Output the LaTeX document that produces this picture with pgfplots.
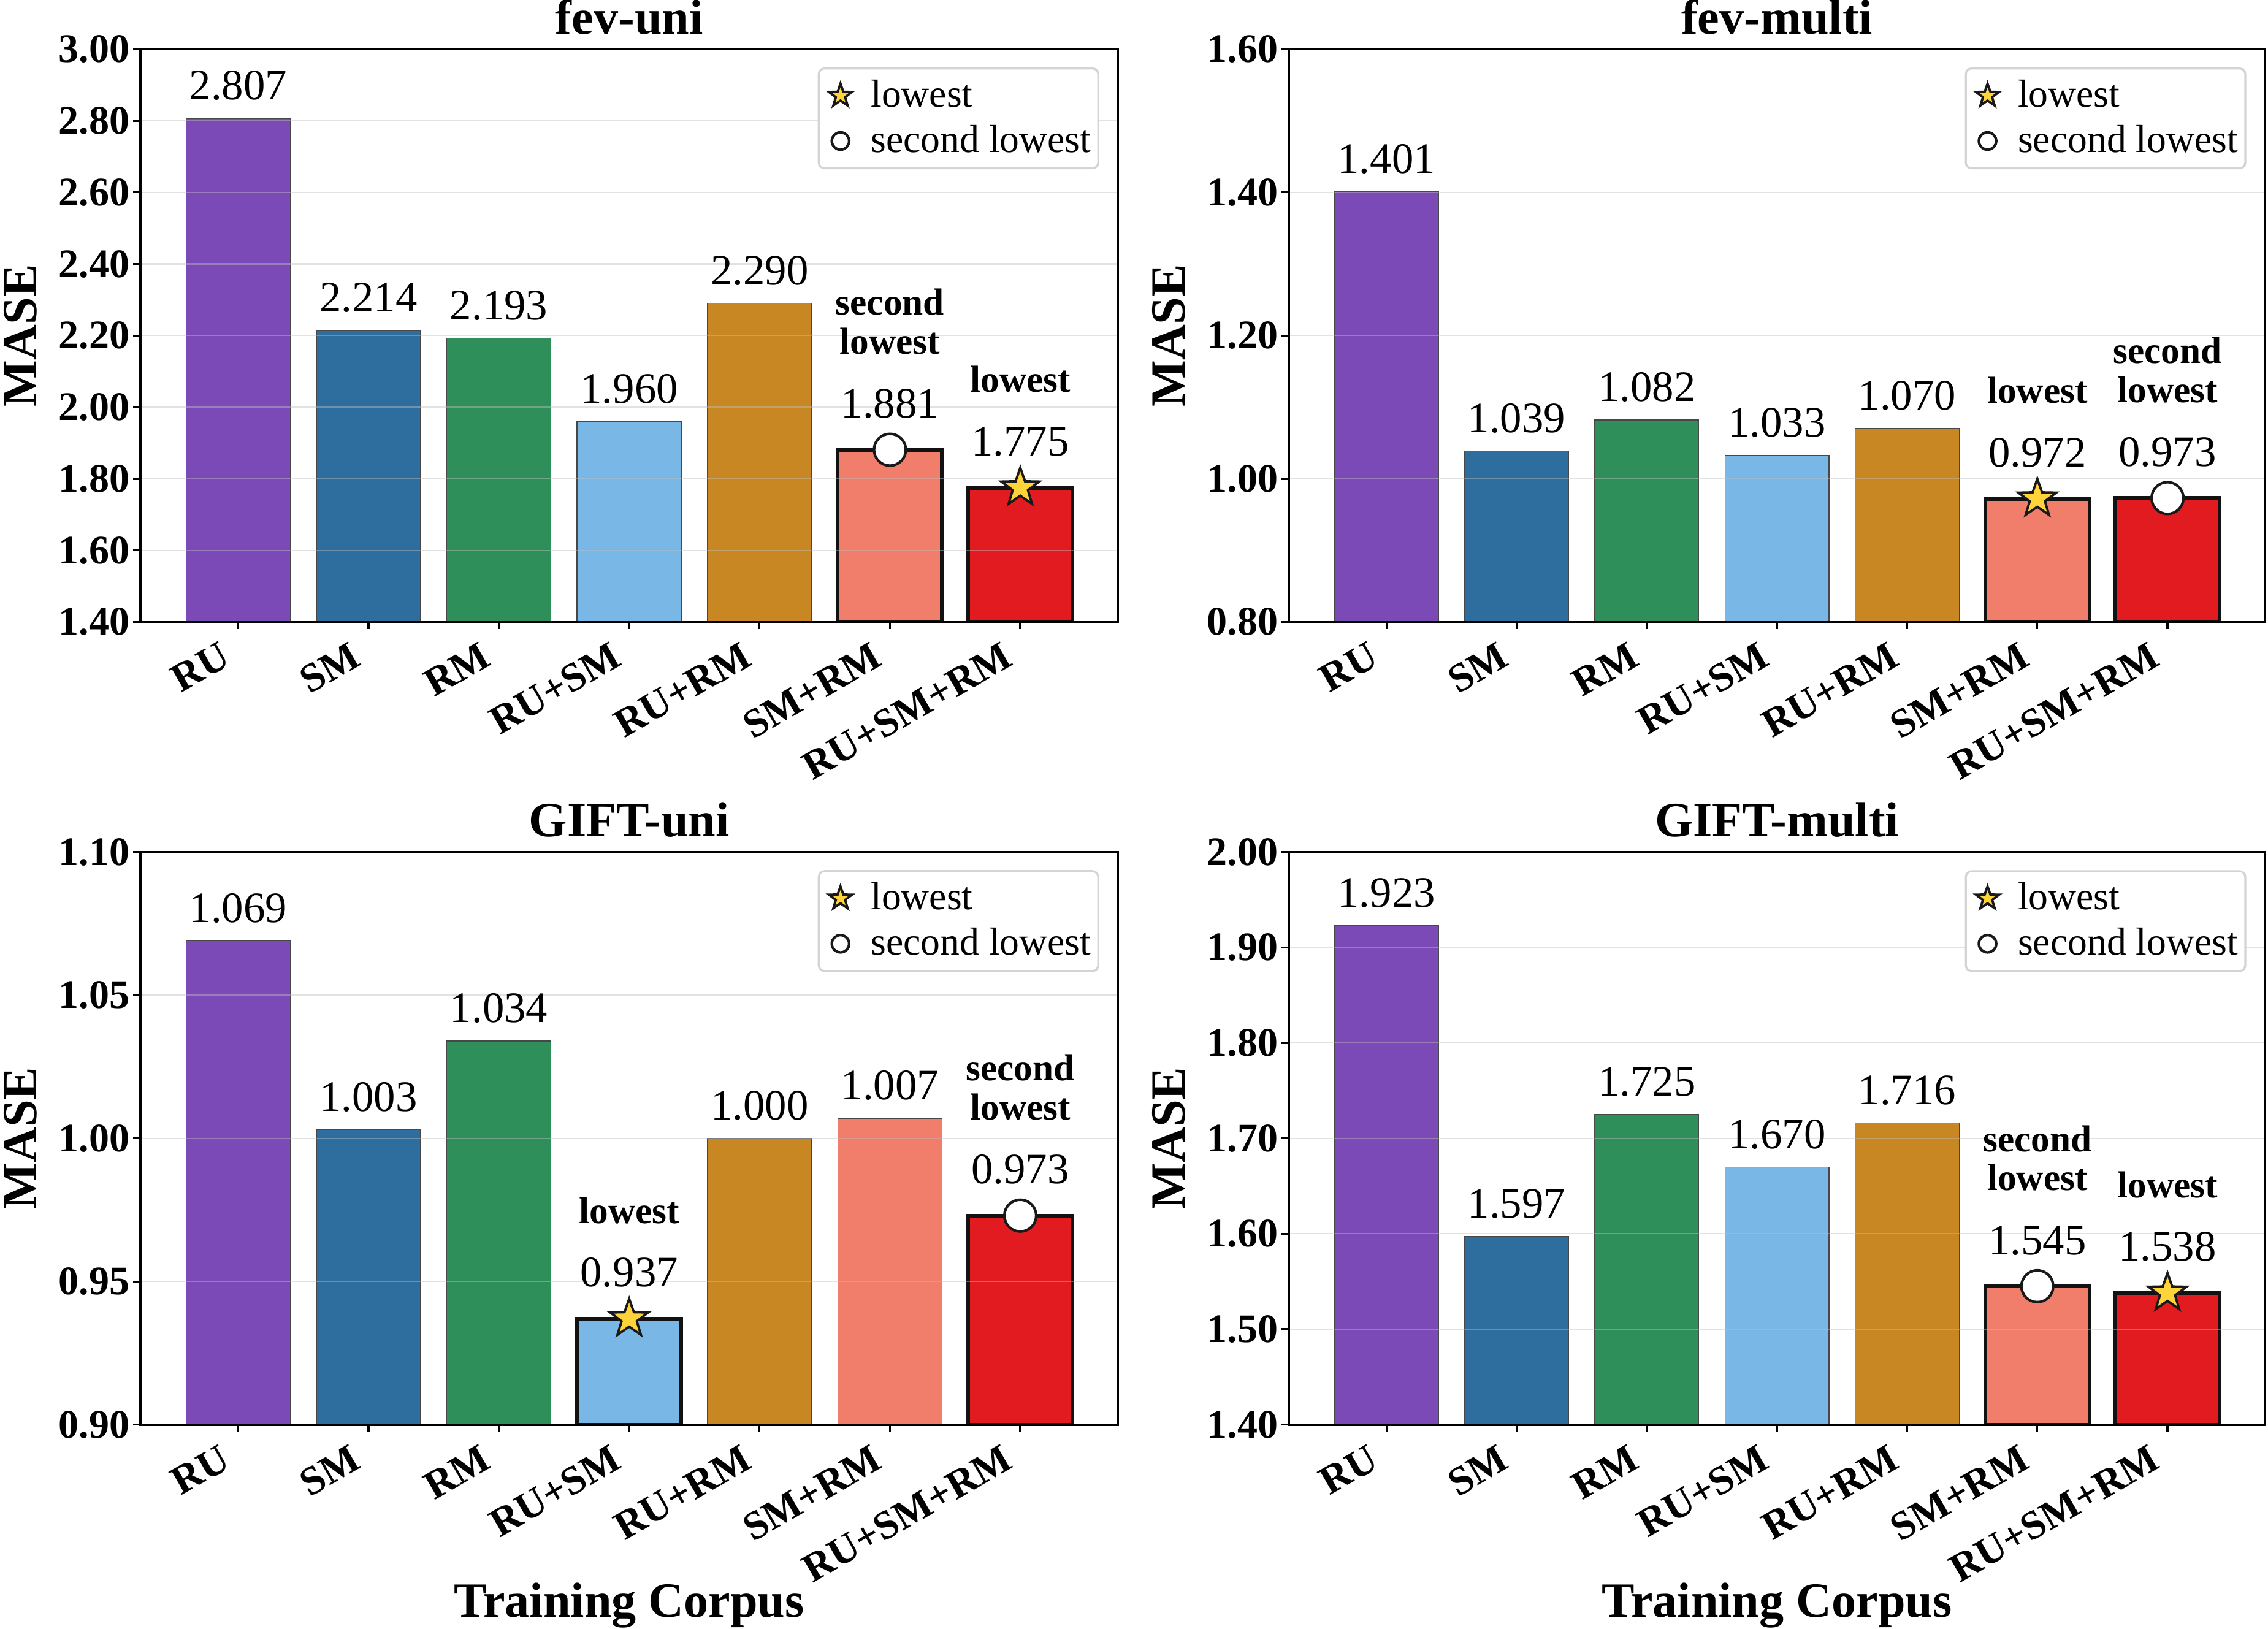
\documentclass[border=0pt]{standalone}
\usepackage{fontspec}
\setmainfont{Liberation Serif}
\usepackage{pgfplots}
\pgfplotsset{compat=1.18}

% bar colours, one per training corpus
\definecolor{cRU}{RGB}{123,74,182}
\definecolor{cSM}{RGB}{46,110,158}
\definecolor{cRM}{RGB}{46,143,90}
\definecolor{cRUSM}{RGB}{121,183,230}
\definecolor{cRURM}{RGB}{201,135,36}
\definecolor{cSMRM}{RGB}{240,126,107}
\definecolor{cALL}{RGB}{225,27,31}
\definecolor{cStar}{RGB}{255,212,59}

% filled five-pointed star
\pgfdeclareplotmark{fstar}{%
  \pgfpathmoveto{\pgfpointpolar{90}{\pgfplotmarksize}}%
  \pgfpathlineto{\pgfpointpolar{126}{0.40\pgfplotmarksize}}%
  \pgfpathlineto{\pgfpointpolar{162}{\pgfplotmarksize}}%
  \pgfpathlineto{\pgfpointpolar{198}{0.40\pgfplotmarksize}}%
  \pgfpathlineto{\pgfpointpolar{234}{\pgfplotmarksize}}%
  \pgfpathlineto{\pgfpointpolar{270}{0.40\pgfplotmarksize}}%
  \pgfpathlineto{\pgfpointpolar{306}{\pgfplotmarksize}}%
  \pgfpathlineto{\pgfpointpolar{342}{0.40\pgfplotmarksize}}%
  \pgfpathlineto{\pgfpointpolar{18}{\pgfplotmarksize}}%
  \pgfpathlineto{\pgfpointpolar{54}{0.40\pgfplotmarksize}}%
  \pgfpathclose
  \pgfusepathqfillstroke
}

\newcommand\tickfont{\fontsize{14}{14}\selectfont\bfseries}
\newcommand\valfont{\fontsize{15}{15}\selectfont}
\newcommand\annfont{\fontsize{13}{13.5}\selectfont\bfseries}
\newcommand\legfont{\fontsize{13.5}{15}\selectfont}
\newcommand\labfont{\fontsize{17}{17}\selectfont\bfseries}

\pgfplotsset{
  /pgf/number format/assume math mode=true,
  every axis title shift=0pt,
  panel/.style={
    scale only axis, width=338pt, height=198pt,
    anchor=north west,
    xmin=-0.75, xmax=6.75,
    xtick={0,1,2,3,4,5,6},
    xticklabels={RU,SM,RM,RU+SM,RU+RM,SM+RM,RU+SM+RM},
    xtick pos=bottom, ytick pos=left, tick align=outside,
    major tick length=2.5pt,
    tick style={black, line width=0.7pt},
    axis line style={line width=0.8pt},
    ymajorgrids,
    grid style={draw=black!25, line width=0.45pt, opacity=0.45},
    axis on top,
    x tick label style={font=\tickfont, rotate=30, anchor=north east, inner sep=0pt, xshift=-7.6pt, yshift=0pt},
    y tick label style={font=\tickfont, inner sep=0pt, anchor=east, xshift=-1pt},
    yticklabel style={/pgf/number format/.cd, fixed, fixed zerofill, precision=2},
    ylabel={MASE},
    ylabel style={font=\labfont, at={([xshift=-35.5pt]axis description cs:0,0.5)}, anchor=south, inner sep=0pt},
    title style={font=\labfont, at={([yshift=5.3pt]axis description cs:0.5,1)}, anchor=base, inner sep=0pt},
    legend style={at={(1,1)}, anchor=north east, xshift=-6.5pt, yshift=-6.3pt,
      draw=black!17, line width=0.7pt, rounded corners=2pt, fill=white,
      font=\legfont, inner xsep=1pt, inner ysep=2.5pt, row sep=1.8pt,
      nodes={inner sep=1.5pt}},
    legend cell align=left,
    legend image code/.code={%
      \path[draw=none, fill=none] (0pt,0pt) -- (15.5pt,0pt);
      \draw[##1] plot[only marks] coordinates {(6.5pt,0pt)};},
  },
  bottomrow/.style={
    xlabel={Training Corpus},
    xlabel style={font=\labfont, at={([yshift=-66.5pt]axis description cs:0.5,0)}, anchor=base, inner sep=0pt},
  },
  bar/.style={ybar, bar width=0.8, bar shift=0pt, draw=black!72, line width=0.3pt,
    point meta=y,
    nodes near coords={\pgfmathprintnumber[fixed, fixed zerofill, precision=3]{\pgfplotspointmeta}},
    every node near coord/.append style={font=\valfont, text=black, anchor=base, inner sep=0pt, yshift=6.4pt}},
  best/.style={draw=black!93, line width=1.3pt,
    every node near coord/.append style={yshift=4.6pt}},
  note/.style={point meta=y, nodes near coords={#1},
    every node near coord/.append style={font=\annfont, text=black, align=center, anchor=south, inner sep=0pt, yshift=32.5pt}},
  lowmark/.style={only marks, mark=fstar, mark size=6.9pt,
    mark options={fill=cStar, draw=black!90, line width=0.8pt}},
  secmark/.style={only marks, mark=*, mark size=5.5pt,
    mark options={fill=white, draw=black!90, line width=0.9pt}},
  legstar/.style={only marks, mark=fstar, mark size=4.2pt,
    mark options={fill=cStar, draw=black!90, line width=0.8pt}},
  legcirc/.style={only marks, mark=*, mark size=3pt,
    mark options={fill=white, draw=black!90, line width=0.9pt}},
}

\begin{document}
\begin{tikzpicture}
\useasboundingbox (0pt,0pt) rectangle (784pt,-563pt);

% fev-uni
\begin{axis}[panel, at={(48.5pt,-17pt)}, title={fev-uni},
  ymin=1.4, ymax=3.0, ytick={1.4,1.6,1.8,2.0,2.2,2.4,2.6,2.8,3.0}]
\addlegendimage{legstar}\addlegendentry{lowest}
\addlegendimage{legcirc}\addlegendentry{second lowest}
\addplot[bar, fill=cRU] coordinates {(0,2.807)};
\addplot[bar, fill=cSM] coordinates {(1,2.214)};
\addplot[bar, fill=cRM] coordinates {(2,2.193)};
\addplot[bar, fill=cRUSM] coordinates {(3,1.960)};
\addplot[bar, fill=cRURM] coordinates {(4,2.290)};
\addplot[bar, best, fill=cSMRM] coordinates {(5,1.881)};
\addplot[bar, best, fill=cALL] coordinates {(6,1.775)};
\addplot[secmark, note={second\\lowest}] coordinates {(5,1.881)};
\addplot[lowmark, note={lowest}] coordinates {(6,1.775)};
\end{axis}

% fev-multi
\begin{axis}[panel, at={(445.5pt,-17pt)}, width=337.5pt, title={fev-multi},
  ymin=0.8, ymax=1.6, ytick={0.8,1.0,1.2,1.4,1.6}]
\addlegendimage{legstar}\addlegendentry{lowest}
\addlegendimage{legcirc}\addlegendentry{second lowest}
\addplot[bar, fill=cRU] coordinates {(0,1.401)};
\addplot[bar, fill=cSM] coordinates {(1,1.039)};
\addplot[bar, fill=cRM] coordinates {(2,1.082)};
\addplot[bar, fill=cRUSM] coordinates {(3,1.033)};
\addplot[bar, fill=cRURM] coordinates {(4,1.070)};
\addplot[bar, best, fill=cSMRM] coordinates {(5,0.972)};
\addplot[bar, best, fill=cALL] coordinates {(6,0.973)};
\addplot[lowmark, note={lowest}] coordinates {(5,0.972)};
\addplot[secmark, note={second\\lowest}] coordinates {(6,0.973)};
\end{axis}

% GIFT-uni
\begin{axis}[panel, bottomrow, at={(48.5pt,-294.5pt)}, title={GIFT-uni},
  ymin=0.9, ymax=1.1, ytick={0.90,0.95,1.00,1.05,1.10}]
\addlegendimage{legstar}\addlegendentry{lowest}
\addlegendimage{legcirc}\addlegendentry{second lowest}
\addplot[bar, fill=cRU] coordinates {(0,1.069)};
\addplot[bar, fill=cSM] coordinates {(1,1.003)};
\addplot[bar, fill=cRM] coordinates {(2,1.034)};
\addplot[bar, best, fill=cRUSM] coordinates {(3,0.937)};
\addplot[bar, fill=cRURM] coordinates {(4,1.000)};
\addplot[bar, fill=cSMRM] coordinates {(5,1.007)};
\addplot[bar, best, fill=cALL] coordinates {(6,0.973)};
\addplot[lowmark, note={lowest}] coordinates {(3,0.937)};
\addplot[secmark, note={second\\lowest}] coordinates {(6,0.973)};
\end{axis}

% GIFT-multi
\begin{axis}[panel, bottomrow, at={(445.5pt,-294.5pt)}, width=337.5pt, title={GIFT-multi},
  ymin=1.4, ymax=2.0, ytick={1.4,1.5,1.6,1.7,1.8,1.9,2.0}]
\addlegendimage{legstar}\addlegendentry{lowest}
\addlegendimage{legcirc}\addlegendentry{second lowest}
\addplot[bar, fill=cRU] coordinates {(0,1.923)};
\addplot[bar, fill=cSM] coordinates {(1,1.597)};
\addplot[bar, fill=cRM] coordinates {(2,1.725)};
\addplot[bar, fill=cRUSM] coordinates {(3,1.670)};
\addplot[bar, fill=cRURM] coordinates {(4,1.716)};
\addplot[bar, best, fill=cSMRM] coordinates {(5,1.545)};
\addplot[bar, best, fill=cALL] coordinates {(6,1.538)};
\addplot[secmark, note={second\\lowest}] coordinates {(5,1.545)};
\addplot[lowmark, note={lowest}] coordinates {(6,1.538)};
\end{axis}
\end{tikzpicture}
\end{document}
